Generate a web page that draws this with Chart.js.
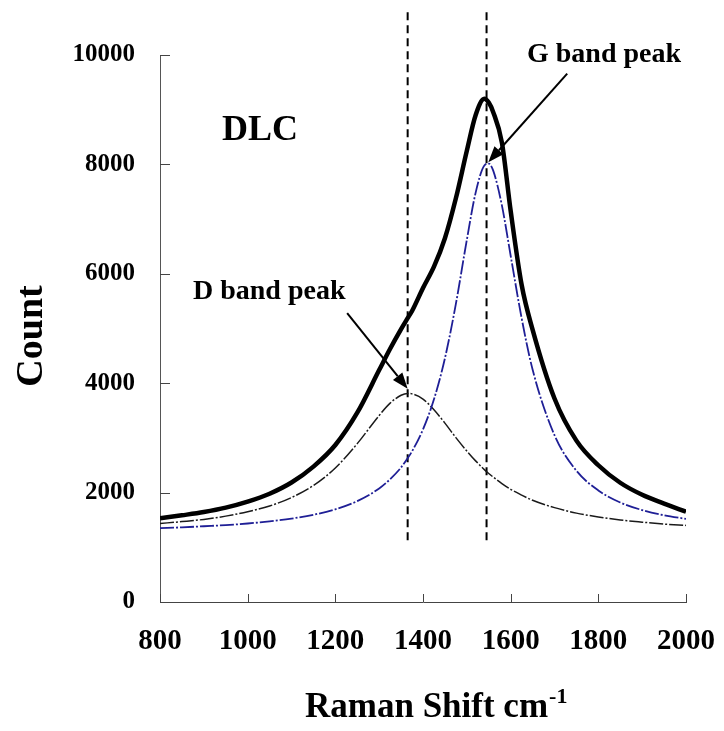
<!DOCTYPE html>
<html>
<head>
<meta charset="utf-8">
<script src="https://cdn.jsdelivr.net/npm/chart.js@4.4.0/dist/chart.umd.min.js"></script>
<style>
  html, body { margin: 0; padding: 0; background: #fff; }
  #wrap { width: 724px; height: 731px; }
</style>
</head>
<body>
<div id="wrap"><canvas id="chart" width="724" height="731"></canvas></div>
<script>
// values
const ramanShift = [800, 850, 900, 950, 1000, 1050, 1100, 1150, 1200, 1250, 1300, 1325, 1350, 1365, 1375, 1400, 1425, 1450, 1475, 1500, 1520, 1540, 1550, 1560, 1580, 1600, 1625, 1650, 1700, 1750, 1800, 1850, 1900, 1950, 2000];
const fitTotal = [1530, 1585, 1645, 1725, 1835, 1980, 2185, 2475, 2870, 3460, 4240, 4630, 4990, 5190, 5320, 5740, 6130, 6650, 7380, 8250, 8900, 9200, 9130, 8960, 8400, 7150, 5800, 4980, 3720, 2950, 2500, 2180, 1960, 1800, 1650];
const dBand = [1435, 1470, 1510, 1570, 1650, 1755, 1910, 2130, 2450, 2895, 3410, 3635, 3780, 3812, 3805, 3710, 3515, 3270, 3005, 2760, 2580, 2420, 2350, 2285, 2165, 2060, 1955, 1860, 1725, 1625, 1555, 1500, 1460, 1425, 1400];
const gBand = [1350, 1365, 1385, 1405, 1435, 1475, 1525, 1595, 1695, 1845, 2075, 2245, 2460, 2630, 2755, 3155, 3705, 4455, 5450, 6620, 7480, 7980, 8015, 7890, 7250, 6330, 5190, 4250, 3050, 2400, 2040, 1820, 1680, 1585, 1520];

const xTicks = [800, 1000, 1200, 1400, 1600, 1800, 2000];
const yTicks = [0, 2000, 4000, 6000, 8000, 10000];

const peakLines = [1365, 1545];        // dashed markers
const peakLineSpan = [1130, 10780];    // bottom / top of the markers
const dArrow = [1227, 5280, 1365, 3900];   // from x,y  to x,y
const gArrow = [1729, 9660, 1549, 8040];

const serif = "'Liberation Serif', 'Times New Roman', serif";

let toPoints = (xs, ys) => xs.map((x, i) => ({x: x, y: ys[i]}));

let lineSet = (vals, color, width, dash) => ({
    data: toPoints(ramanShift, vals),
    borderColor: color,
    borderWidth: width,
    borderDash: dash,
    pointRadius: 0,
    fill: false,
    cubicInterpolationMode: 'monotone'
});

let markerSet = (x) => ({
    data: toPoints([x, x], peakLineSpan),
    borderColor: '#000',
    borderWidth: 2,
    borderDash: [8, 5],
    pointRadius: 0,
    clip: false
});

let drawArrow = (ctx, xs, ys, a) => {
    let x1 = xs.getPixelForValue(a[0]), y1 = ys.getPixelForValue(a[1]);
    let x2 = xs.getPixelForValue(a[2]), y2 = ys.getPixelForValue(a[3]);
    let ang = Math.atan2(y2 - y1, x2 - x1), len = 16, half = 6;
    let bx = x2 - len * Math.cos(ang), by = y2 - len * Math.sin(ang);
    ctx.beginPath();
    ctx.moveTo(x1, y1);
    ctx.lineTo(bx, by);
    ctx.lineWidth = 2;
    ctx.stroke();
    ctx.beginPath();
    ctx.moveTo(x2, y2);
    ctx.lineTo(bx + half * Math.sin(ang), by - half * Math.cos(ang));
    ctx.lineTo(bx - half * Math.sin(ang), by + half * Math.cos(ang));
    ctx.closePath();
    ctx.fill();
};

// ticks pointing inward, arrows and the free text
const overlay = {
    id: 'overlay',
    afterDraw(chart) {
        let ctx = chart.ctx, xs = chart.scales.x, ys = chart.scales.y;
        ctx.save();
        ctx.strokeStyle = '#444';
        ctx.lineWidth = 1;
        yTicks.forEach(v => {
            let py = Math.round(ys.getPixelForValue(v)) + 0.5;
            ctx.beginPath(); ctx.moveTo(xs.left, py); ctx.lineTo(xs.left + 10, py); ctx.stroke();
        });
        xTicks.forEach(v => {
            let px = Math.round(xs.getPixelForValue(v)) + 0.5;
            ctx.beginPath(); ctx.moveTo(px, ys.bottom); ctx.lineTo(px, ys.bottom - 8); ctx.stroke();
        });

        ctx.strokeStyle = '#000';
        ctx.fillStyle = '#000';
        drawArrow(ctx, xs, ys, dArrow);
        drawArrow(ctx, xs, ys, gArrow);

        ctx.textBaseline = 'alphabetic';
        ctx.textAlign = 'left';
        ctx.font = 'bold 36px ' + serif;
        ctx.fillText('DLC', 222, 140);
        ctx.font = 'bold 28px ' + serif;
        ctx.fillText('G band peak', 527, 62);
        ctx.fillText('D band peak', 193, 299);

        // x axis title with superscript
        ctx.font = 'bold 35px ' + serif;
        let main = 'Raman Shift cm';
        ctx.fillText(main, 305, 717);
        let w = ctx.measureText(main).width;
        ctx.font = 'bold 22px ' + serif;
        ctx.fillText('-1', 305 + w + 1, 703);

        // y axis title
        ctx.translate(42, 336);
        ctx.rotate(-Math.PI / 2);
        ctx.textAlign = 'center';
        ctx.font = 'bold 38px ' + serif;
        ctx.fillText('Count', 0, 0);
        ctx.restore();
    }
};

let ctx = document.querySelector('#chart');
let ramanChart = new Chart(ctx, {
    type: 'line',
    data: {
        datasets: [
            lineSet(gBand, '#1f1f96', 1.8, [14, 2, 2, 2]),
            lineSet(dBand, '#1a1a1a', 1.5, [14, 2, 2, 2]),
            lineSet(fitTotal, '#000', 4.5, []),
            markerSet(peakLines[0]),
            markerSet(peakLines[1])
        ]
    },
    options: {
        responsive: false,
        animation: false,
        events: [],
        layout: { padding: { top: 55, right: 38, left: 0, bottom: 0 } },
        plugins: { legend: { display: false }, tooltip: { enabled: false } },
        scales: {
            x: {
                type: 'linear',
                min: 800, max: 2000,
                afterBuildTicks: (s) => { s.ticks = xTicks.map(v => ({value: v})); },
                afterFit: (s) => { s.height = 129; s.paddingLeft = 0; s.paddingRight = 0; },
                grid: { drawOnChartArea: false, drawTicks: false },
                border: { color: '#444', width: 1 },
                ticks: { color: '#000', padding: 22, maxRotation: 0, autoSkip: false,
                         callback: (v) => String(v),
                         font: { family: serif, size: 29, weight: 'bold' } }
            },
            y: {
                min: 0, max: 10000,
                afterBuildTicks: (s) => { s.ticks = yTicks.map(v => ({value: v})); },
                afterFit: (s) => { s.width = 160; s.paddingTop = 0; s.paddingBottom = 0; },
                grid: { drawOnChartArea: false, drawTicks: false },
                border: { color: '#555', width: 1 },
                ticks: { color: '#000', padding: 25,
                         callback: (v) => String(v),
                         font: { family: serif, size: 25, weight: 'bold' } }
            }
        }
    },
    plugins: [overlay]
});
</script>
</body>
</html>
